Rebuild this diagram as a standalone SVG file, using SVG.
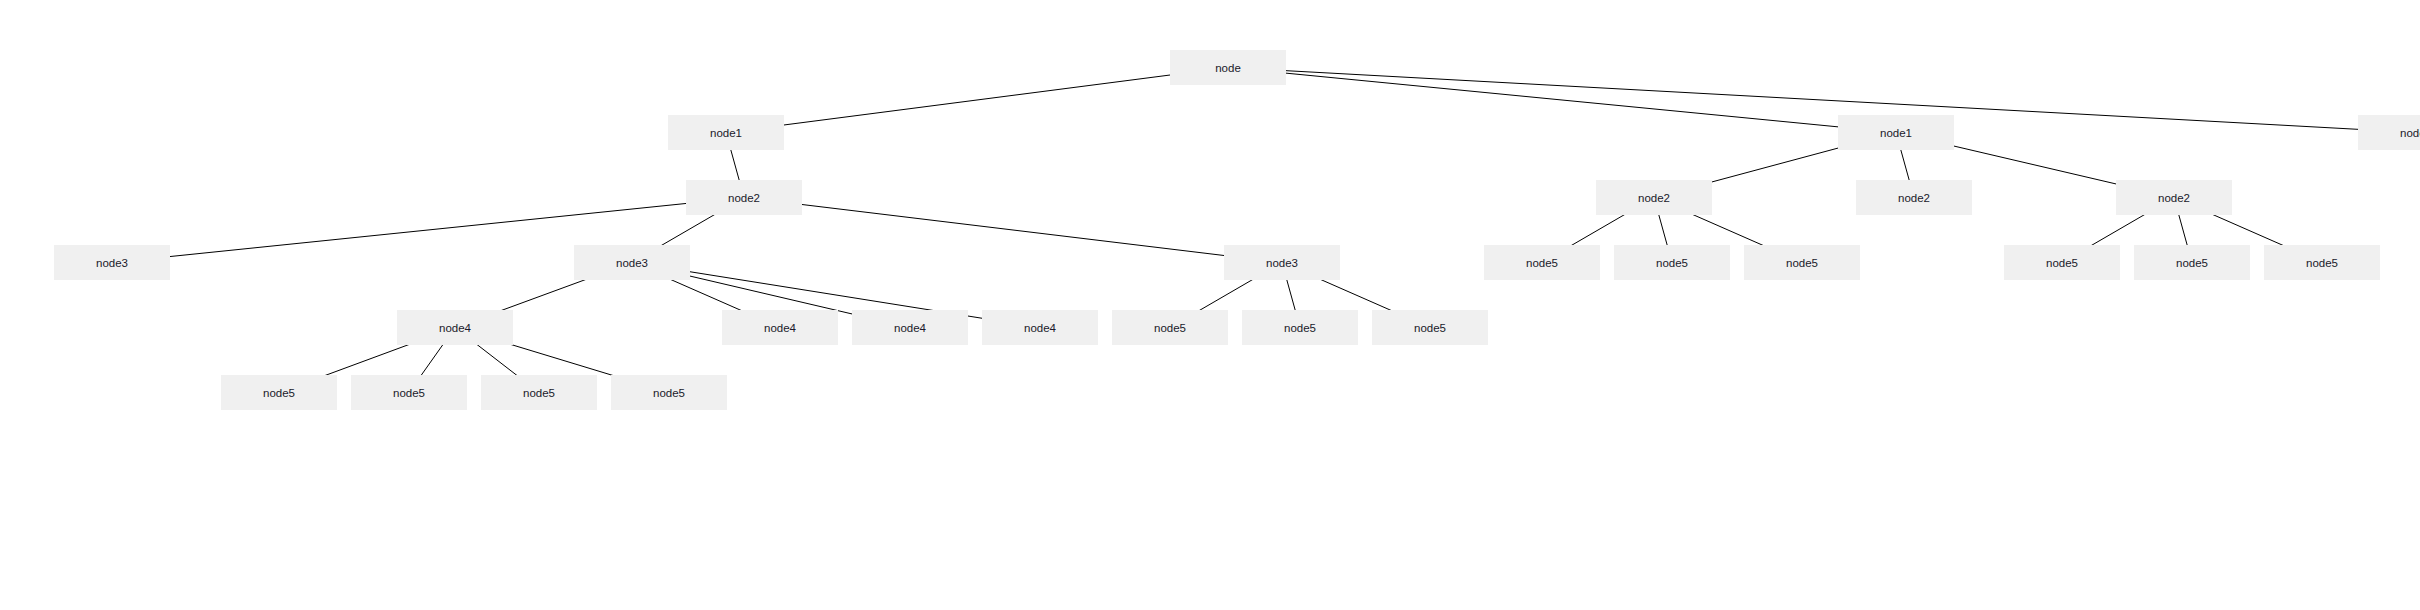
<svg xmlns="http://www.w3.org/2000/svg" width="2420" height="610" viewBox="0 0 2420 610">
<style>
.n rect{fill:#f0f0f0;stroke:none}
.n text{font-family:"Liberation Sans",Arial,sans-serif;font-size:11.5px;fill:#1a1a2a;text-anchor:middle}
#edges line{stroke:#000;stroke-width:1}
</style>
<rect width="2420" height="610" fill="#fff"/>
<g id="edges">
<line x1="1228" y1="67.5" x2="726" y2="132.5"/>
<line x1="1228" y1="67.5" x2="1896" y2="132.5"/>
<line x1="1228" y1="67.5" x2="2416" y2="132.5"/>
<line x1="726" y1="132.5" x2="744" y2="197.5"/>
<line x1="744" y1="197.5" x2="112" y2="262.5"/>
<line x1="744" y1="197.5" x2="632" y2="262.5"/>
<line x1="744" y1="197.5" x2="1282" y2="262.5"/>
<line x1="632" y1="262.5" x2="455" y2="327.5"/>
<line x1="632" y1="262.5" x2="780" y2="327.5"/>
<line x1="632" y1="262.5" x2="910" y2="327.5"/>
<line x1="632" y1="262.5" x2="1040" y2="327.5"/>
<line x1="455" y1="327.5" x2="279" y2="392.5"/>
<line x1="455" y1="327.5" x2="409" y2="392.5"/>
<line x1="455" y1="327.5" x2="539" y2="392.5"/>
<line x1="455" y1="327.5" x2="669" y2="392.5"/>
<line x1="1282" y1="262.5" x2="1170" y2="327.5"/>
<line x1="1282" y1="262.5" x2="1300" y2="327.5"/>
<line x1="1282" y1="262.5" x2="1430" y2="327.5"/>
<line x1="1896" y1="132.5" x2="1654" y2="197.5"/>
<line x1="1896" y1="132.5" x2="1914" y2="197.5"/>
<line x1="1896" y1="132.5" x2="2174" y2="197.5"/>
<line x1="1654" y1="197.5" x2="1542" y2="262.5"/>
<line x1="1654" y1="197.5" x2="1672" y2="262.5"/>
<line x1="1654" y1="197.5" x2="1802" y2="262.5"/>
<line x1="2174" y1="197.5" x2="2062" y2="262.5"/>
<line x1="2174" y1="197.5" x2="2192" y2="262.5"/>
<line x1="2174" y1="197.5" x2="2322" y2="262.5"/>
</g>
<g id="root" class="n"><rect x="1170" y="50" width="116" height="35"/><text x="1228" y="71.5">node</text></g>
<g id="n1a" class="n"><rect x="668" y="115" width="116" height="35"/><text x="726" y="136.5">node1</text></g>
<g id="n1b" class="n"><rect x="1838" y="115" width="116" height="35"/><text x="1896" y="136.5">node1</text></g>
<g id="n1c" class="n"><rect x="2358" y="115" width="116" height="35"/><text x="2416" y="136.5">node1</text></g>
<g id="n2a" class="n"><rect x="686" y="180" width="116" height="35"/><text x="744" y="201.5">node2</text></g>
<g id="n2b" class="n"><rect x="1596" y="180" width="116" height="35"/><text x="1654" y="201.5">node2</text></g>
<g id="n2c" class="n"><rect x="1856" y="180" width="116" height="35"/><text x="1914" y="201.5">node2</text></g>
<g id="n2d" class="n"><rect x="2116" y="180" width="116" height="35"/><text x="2174" y="201.5">node2</text></g>
<g id="n3a" class="n"><rect x="54" y="245" width="116" height="35"/><text x="112" y="266.5">node3</text></g>
<g id="n3b" class="n"><rect x="574" y="245" width="116" height="35"/><text x="632" y="266.5">node3</text></g>
<g id="n3c" class="n"><rect x="1224" y="245" width="116" height="35"/><text x="1282" y="266.5">node3</text></g>
<g id="n5r1" class="n"><rect x="1484" y="245" width="116" height="35"/><text x="1542" y="266.5">node5</text></g>
<g id="n5r2" class="n"><rect x="1614" y="245" width="116" height="35"/><text x="1672" y="266.5">node5</text></g>
<g id="n5r3" class="n"><rect x="1744" y="245" width="116" height="35"/><text x="1802" y="266.5">node5</text></g>
<g id="n5r4" class="n"><rect x="2004" y="245" width="116" height="35"/><text x="2062" y="266.5">node5</text></g>
<g id="n5r5" class="n"><rect x="2134" y="245" width="116" height="35"/><text x="2192" y="266.5">node5</text></g>
<g id="n5r6" class="n"><rect x="2264" y="245" width="116" height="35"/><text x="2322" y="266.5">node5</text></g>
<g id="n4a" class="n"><rect x="397" y="310" width="116" height="35"/><text x="455" y="331.5">node4</text></g>
<g id="n4b" class="n"><rect x="722" y="310" width="116" height="35"/><text x="780" y="331.5">node4</text></g>
<g id="n4c" class="n"><rect x="852" y="310" width="116" height="35"/><text x="910" y="331.5">node4</text></g>
<g id="n4d" class="n"><rect x="982" y="310" width="116" height="35"/><text x="1040" y="331.5">node4</text></g>
<g id="n5m1" class="n"><rect x="1112" y="310" width="116" height="35"/><text x="1170" y="331.5">node5</text></g>
<g id="n5m2" class="n"><rect x="1242" y="310" width="116" height="35"/><text x="1300" y="331.5">node5</text></g>
<g id="n5m3" class="n"><rect x="1372" y="310" width="116" height="35"/><text x="1430" y="331.5">node5</text></g>
<g id="n5l1" class="n"><rect x="221" y="375" width="116" height="35"/><text x="279" y="396.5">node5</text></g>
<g id="n5l2" class="n"><rect x="351" y="375" width="116" height="35"/><text x="409" y="396.5">node5</text></g>
<g id="n5l3" class="n"><rect x="481" y="375" width="116" height="35"/><text x="539" y="396.5">node5</text></g>
<g id="n5l4" class="n"><rect x="611" y="375" width="116" height="35"/><text x="669" y="396.5">node5</text></g>
</svg>
